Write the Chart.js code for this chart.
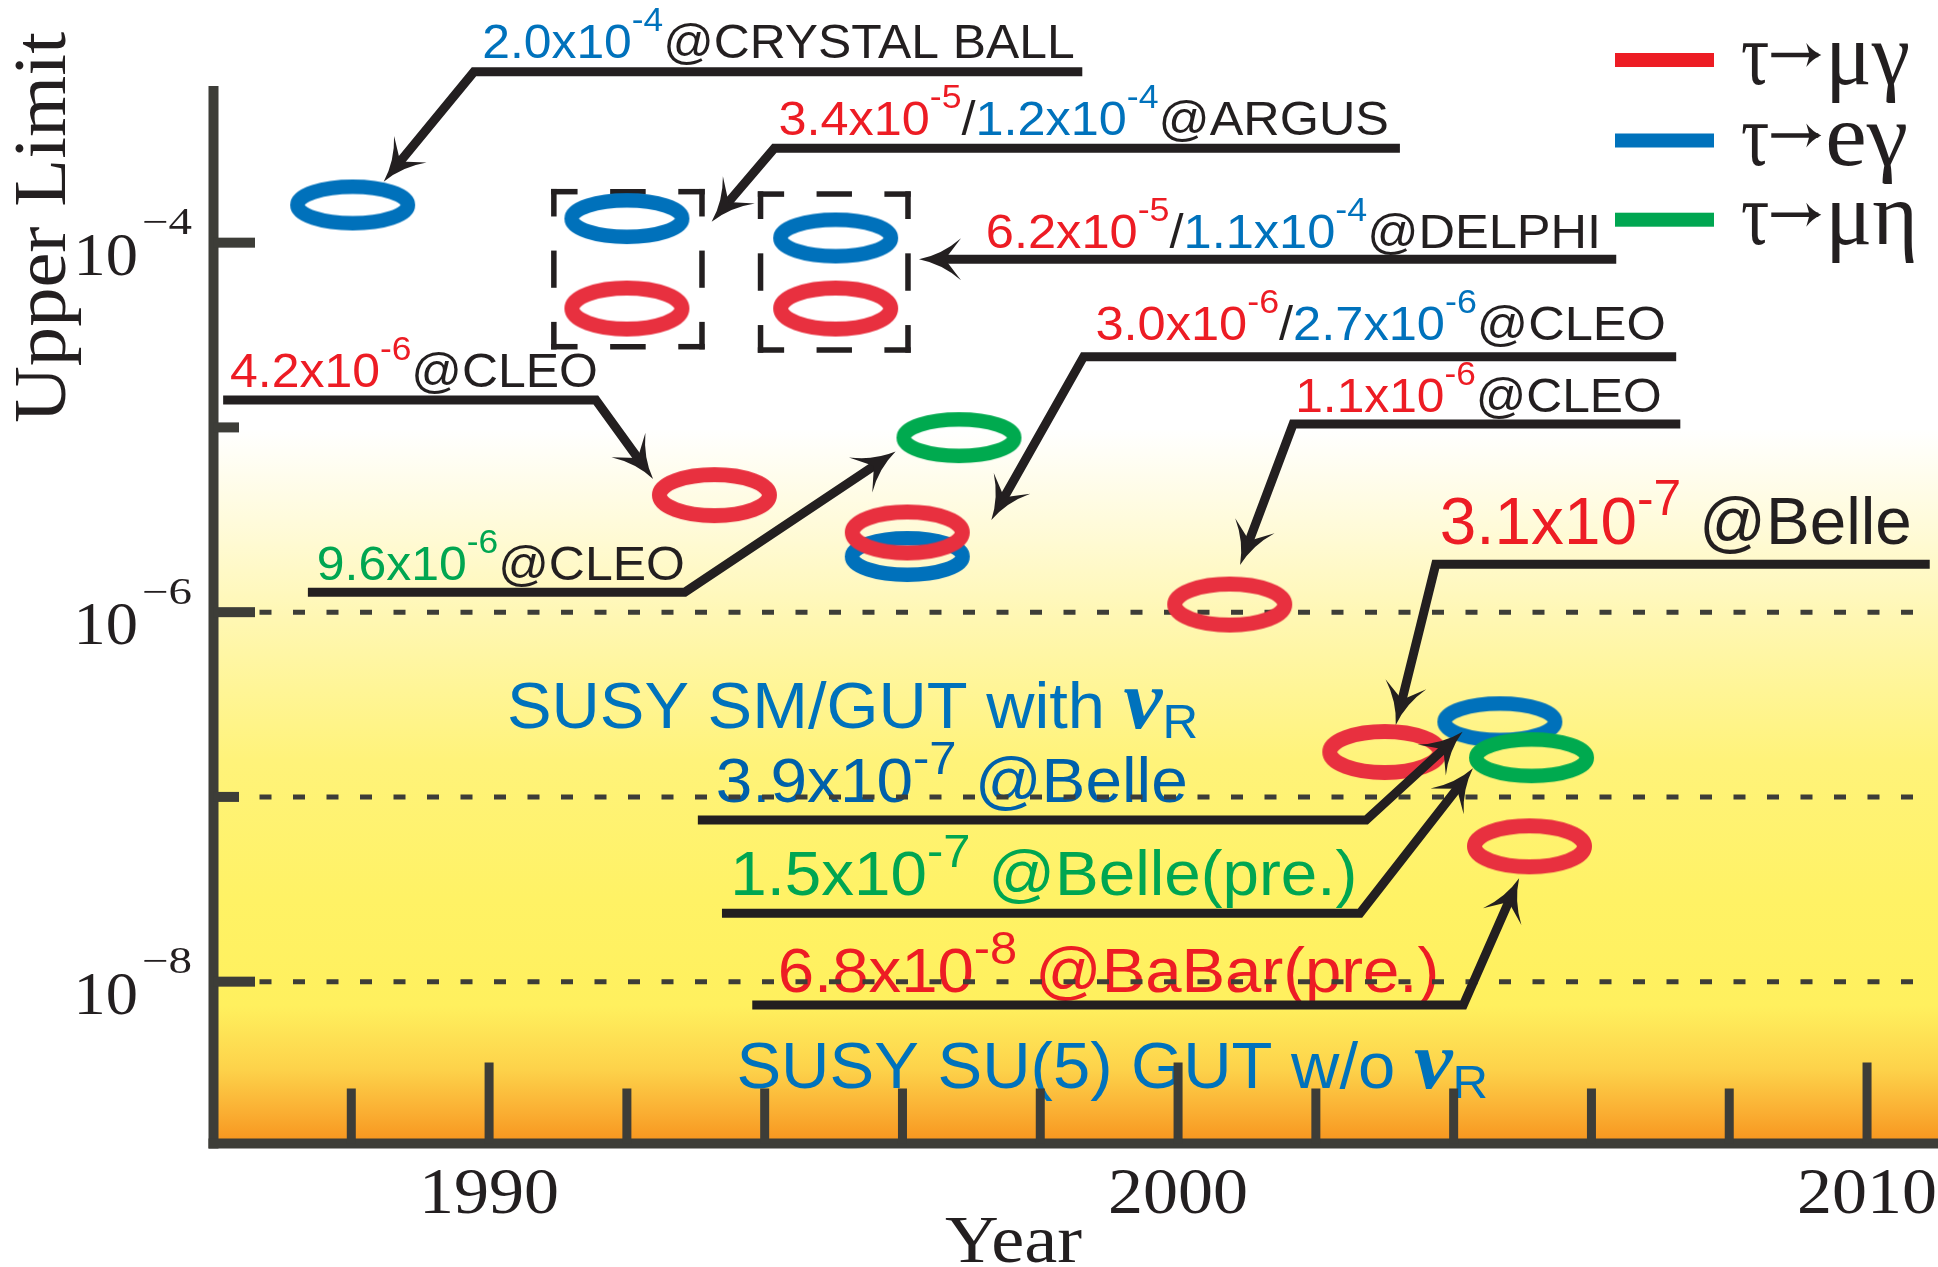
<!DOCTYPE html>
<html>
<head>
<meta charset="utf-8">
<title>Upper limits on tau LFV decays</title>
<script src="https://cdn.jsdelivr.net/npm/chart.js@4.4.1/dist/chart.umd.min.js"></script>
<style>
  html, body { margin: 0; padding: 0; background: #fff; }
  canvas { display: block; }
</style>
</head>
<body>
<canvas id="chart" width="1938" height="1267"></canvas>
<script>
(function () {
    'use strict';

    // ── Data ──────────────────────────────────────────────────────────────────
    const seriesNames  = ['τ→μγ', 'τ→eγ', 'τ→μη'];
    const legendColors = ['#ed1c24', '#0072bc', '#00a651'];
    const ringColors   = ['#e8303f', '#0071bb', '#00aa4f'];

    const muGammaYears  = [1992.0, 1993.27, 1995.03, 1996.07, 2000.75, 2003.0, 2005.1];
    const muGammaLimits = [4.4e-5, 4.3e-6, 4.4e-5, 2.7e-6, 1.1e-6, 1.75e-7, 5.4e-8];
    const eGammaYears   = [1988.02, 1992.0, 1995.03, 1996.07, 2004.67];
    const eGammaLimits  = [1.6e-4, 1.35e-4, 1.06e-4, 2.0e-6, 2.55e-7];
    const muEtaYears    = [1996.82, 2005.13];
    const muEtaLimits   = [8.8e-6, 1.63e-7];

    const yearTicks     = [1988, 1990, 1992, 1994, 1996, 1998, 2000, 2002, 2004, 2006, 2008, 2010];
    const yearLabels    = [1990, 2000, 2010];
    const decadeTicks   = [-4, -5, -6, -7, -8];
    const decadeLabels  = [-4, -6, -8];
    const dashedDecades = [-6, -7, -8];

    const xMin = 1986, xMax = 2011.03;
    const yMin = Math.pow(10, -8.876), yMax = Math.pow(10, -3.152);

    // colours used by the annotation text
    const R = '#ed1c24', B = '#0072bc', B2 = '#0060aa', G = '#00a651', K = '#231f20';
    const AXIS = '#3d3d38';

    // Annotation text, anchored in data units: [year, log10(limit)]
    const notes = [
        { segs: [['2.0x10', B], ['-4', B, 'sup'], ['@CRYSTAL BALL', K]], at: [1989.90, -3.002], to: 1998.50, size: 48 },
        { segs: [['3.4x10', R], ['-5', R, 'sup'], ['/', K], ['1.2x10', B], ['-4', B, 'sup'], ['@ARGUS', K]], at: [1994.20, -3.417], to: 2003.06, size: 48 },
        { segs: [['6.2x10', R], ['-5', R, 'sup'], ['/', K], ['1.1x10', B], ['-4', B, 'sup'], ['@DELPHI', K]], at: [1997.21, -4.030], to: 2006.14, size: 48 },
        { segs: [['3.0x10', R], ['-6', R, 'sup'], ['/', K], ['2.7x10', B], ['-6', B, 'sup'], ['@CLEO', K]], at: [1998.80, -4.527], to: 2007.08, size: 48 },
        { segs: [['1.1x10', R], ['-6', R, 'sup'], ['@CLEO', K]], at: [2001.70, -4.917], to: 2007.02, size: 48 },
        { segs: [['4.2x10', R], ['-6', R, 'sup'], ['@CLEO', K]], at: [1986.24, -4.780], to: 1991.58, size: 48 },
        { segs: [['9.6x10', G], ['-6', G, 'sup'], ['@CLEO', K]], at: [1987.50, -5.826], to: 1992.84, size: 48 },
        { segs: [['3.1x10', R], ['-7', R, 'sup'], [' @Belle', K]], at: [2003.80, -5.631], to: 2010.65, size: 66, big: true },
        { segs: [['3.9x10', B2], ['-7', B2, 'sup'], [' @Belle', B2]], at: [1993.29, -7.026], to: 2000.14, size: 63, big: true },
        { segs: [['1.5x10', G], ['-7', G, 'sup'], [' @Belle(pre.)', G]], at: [1993.50, -7.531], to: 2002.60, size: 63, big: true },
        { segs: [['6.8x10', R], ['-8', R, 'sup'], [' @BaBar(pre.)', R]], at: [1994.19, -8.054], to: 2003.79, size: 63, big: true },
        { segs: [['SUSY SM/GUT with ', B], ['ν', B, 'nu'], ['R', B, 'sub']], at: [1990.26, -6.629], to: 2000.29, size: 65 },
        { segs: [['SUSY SU(5) GUT w/o ', B], ['ν', B, 'nu'], ['R', B, 'sub']], at: [1993.59, -8.577], to: 2004.50, size: 64 },
    ];

    // Leader lines, last point is the arrow tip: [year, log10(limit)]
    const leaders = [
        [[1998.61, -3.075], [1989.78, -3.075], [1988.47, -3.670]],
        [[2003.22, -3.489], [1994.14, -3.489], [1993.23, -3.887]],
        [[2006.36, -4.090], [1996.24, -4.090]],
        [[2007.23, -4.617], [1998.63, -4.617], [1997.29, -5.501]],
        [[2007.29, -4.982], [2001.67, -4.982], [2000.90, -5.745]],
        [[1986.14, -4.852], [1991.55, -4.852], [1992.38, -5.279]],
        [[1987.37, -5.892], [1992.84, -5.892], [1995.90, -5.131]],
        [[2010.91, -5.741], [2003.74, -5.741], [2003.16, -6.611]],
        [[1993.03, -7.125], [2002.73, -7.125], [2004.13, -6.647]],
        [[1993.38, -7.630], [2002.64, -7.630], [2004.28, -6.845]],
        [[1993.82, -8.126], [2004.14, -8.126], [2004.95, -7.440]],
    ];

    // Dashed boxes around the ARGUS and DELPHI pairs
    const boxes = [
        [[1990.94, -3.724], [1993.09, -4.563]],
        [[1993.94, -3.737], [1996.08, -4.581]],
    ];

    const SANS  = '"Liberation Sans", Arial, sans-serif';
    const SERIF = '"Liberation Serif", "Times New Roman", serif';

    // ── Helpers ───────────────────────────────────────────────────────────────
    function toPoints(xs, ys) {
        return xs.map((x, i) => ({ x, y: ys[i] }));
    }

    // Elliptical ring used as point style
    function ringImage(color, w, h, t) {
        const c = document.createElement('canvas');
        c.width = w + 4;
        c.height = h + 4;
        const g = c.getContext('2d');
        g.strokeStyle = color;
        g.lineWidth = t;
        g.beginPath();
        g.ellipse(c.width / 2, c.height / 2, w / 2 - t / 2, h / 2 - t / 2, 0, 0, Math.PI * 2);
        g.stroke();
        return c;
    }

    function segFont(seg, size, big) {
        const kind = seg[2];
        if (kind === 'sup') return `${Math.round(size * (big ? 0.75 : 0.7))}px ${SANS}`;
        if (kind === 'sub') return `${Math.round(size * 0.74)}px ${SANS}`;
        if (kind === 'nu')  return `italic bold ${Math.round(size * 1.3)}px ${SERIF}`;
        return `${size}px ${SANS}`;
    }

    // Rich text squeezed to a target width
    function drawRich(ctx, note, x, y, targetW) {
        const { segs, size, big } = note;
        const widths = segs.map(s => {
            ctx.font = segFont(s, size, big);
            return ctx.measureText(s[0]).width;
        });
        const total = widths.reduce((a, b) => a + b, 0);
        ctx.save();
        ctx.translate(x, y);
        ctx.scale(targetW / total, 1);
        let cx = 0;
        segs.forEach((s, i) => {
            ctx.font = segFont(s, size, big);
            ctx.fillStyle = s[1];
            let dy = 0;
            if (s[2] === 'sup') dy = -size * (big ? 0.44 : 0.56);
            if (s[2] === 'sub') dy = size * 0.15;
            ctx.fillText(s[0], cx, dy);
            cx += widths[i];
        });
        ctx.restore();
    }

    function fitText(ctx, text, x, y, w, font, color, align) {
        ctx.save();
        ctx.font = font;
        ctx.fillStyle = color;
        const nat = ctx.measureText(text).width;
        const sx = w / nat;
        const left = align === 'center' ? x - w / 2 : x;
        ctx.translate(left, y);
        ctx.scale(sx, 1);
        ctx.fillText(text, 0, 0);
        ctx.restore();
    }

    // Legend label: tau, a drawn long arrow, then the final state
    function legendText(ctx, label, x, y, w) {
        const tau = label.slice(0, 1), rest = label.slice(2);
        const font = `88px ${SERIF}`;
        ctx.save();
        ctx.font = font;
        ctx.fillStyle = K;
        ctx.strokeStyle = K;
        const tw = ctx.measureText(tau).width * 0.8;
        fitText(ctx, tau, x, y, tw, font, K);
        // arrow glyph
        const ax0 = x + tw + 2, ax1 = ax0 + 50, ay = y - 29;
        ctx.lineWidth = 4.5;
        ctx.lineCap = 'butt';
        ctx.beginPath();
        ctx.moveTo(ax0, ay);
        ctx.lineTo(ax1 - 3, ay);
        ctx.stroke();
        ctx.beginPath();
        ctx.moveTo(ax1, ay);
        ctx.quadraticCurveTo(ax1 - 9, ay - 4, ax1 - 15, ay - 12);
        ctx.lineTo(ax1 - 12, ay - 1);
        ctx.lineTo(ax0 + 30, ay - 1);
        ctx.lineTo(ax0 + 30, ay + 1);
        ctx.lineTo(ax1 - 12, ay + 1);
        ctx.lineTo(ax1 - 15, ay + 12);
        ctx.quadraticCurveTo(ax1 - 9, ay + 4, ax1, ay);
        ctx.closePath();
        ctx.fill();
        const rx = ax1 + 4;
        fitText(ctx, rest, rx, y, x + w - rx, font, K);
        ctx.restore();
    }

    const ARROW_LEN = 42, ARROW_HALF = 21;

    function arrowHead(ctx, tip, ang) {
        ctx.save();
        ctx.translate(tip.x, tip.y);
        ctx.rotate(ang);
        ctx.beginPath();
        ctx.moveTo(0, 0);
        ctx.quadraticCurveTo(-ARROW_LEN * 0.55, -ARROW_HALF * 0.22, -ARROW_LEN, -ARROW_HALF);
        ctx.lineTo(-ARROW_LEN * 0.62, 0);
        ctx.lineTo(-ARROW_LEN, ARROW_HALF);
        ctx.quadraticCurveTo(-ARROW_LEN * 0.55, ARROW_HALF * 0.22, 0, 0);
        ctx.closePath();
        ctx.fill();
        ctx.restore();
    }

    function dashedSide(ctx, x0, y0, x1, y1) {
        const L = Math.hypot(x1 - x0, y1 - y0);
        const ux = (x1 - x0) / L, uy = (y1 - y0) / L;
        const ext = 2.75;
        const pieces = [[-ext, 0.16 * L], [0.38 * L, 0.62 * L], [0.84 * L, L + ext]];
        pieces.forEach(([a, b]) => {
            ctx.beginPath();
            ctx.moveTo(x0 + ux * a, y0 + uy * a);
            ctx.lineTo(x0 + ux * b, y0 + uy * b);
            ctx.stroke();
        });
    }

    // ── Decoration plugin: background, axes, text, arrows ─────────────────────
    const decor = {
        id: 'decor',
        beforeDraw(chart) {
            const { ctx, chartArea: a } = chart;
            ctx.save();
            ctx.fillStyle = '#ffffff';
            ctx.fillRect(0, 0, chart.width, chart.height);
            const g = ctx.createLinearGradient(0, a.top, 0, a.bottom);
            g.addColorStop(0.00, '#ffffff');
            g.addColorStop(0.325, '#ffffff');
            g.addColorStop(0.41, '#fffbdc');
            g.addColorStop(0.505, '#fff7b2');
            g.addColorStop(0.637, '#fff37a');
            g.addColorStop(0.77, '#fff265');
            g.addColorStop(0.87, '#fff05e');
            g.addColorStop(0.93, '#fdd24a');
            g.addColorStop(0.97, '#faaf33');
            g.addColorStop(1.00, '#f7941d');
            ctx.fillStyle = g;
            ctx.fillRect(a.left, a.top, a.right - a.left, a.bottom - a.top);
            ctx.restore();
        },

        beforeDatasetsDraw(chart) {
            const { ctx, chartArea: a } = chart;
            const xs = chart.scales.x, ys = chart.scales.y;
            const px = v => xs.getPixelForValue(v);
            const py = e => ys.getPixelForValue(Math.pow(10, e));

            ctx.save();
            ctx.textBaseline = 'alphabetic';
            ctx.textAlign = 'left';

            // annotation text
            notes.forEach(n => {
                const x = px(n.at[0]);
                drawRich(ctx, n, x, py(n.at[1]), px(n.to) - x);
            });

            // dashed boxes
            ctx.strokeStyle = K;
            ctx.lineWidth = 5.5;
            ctx.lineCap = 'butt';
            boxes.forEach(([p, q]) => {
                const l = px(p[0]), r = px(q[0]), t = py(p[1]), b = py(q[1]);
                dashedSide(ctx, l, t, r, t);
                dashedSide(ctx, r, t, r, b);
                dashedSide(ctx, r, b, l, b);
                dashedSide(ctx, l, b, l, t);
            });

            // dashed decade lines
            ctx.strokeStyle = AXIS;
            ctx.lineWidth = 5;
            ctx.setLineDash([12, 21.5]);
            dashedDecades.forEach(e => {
                const y = py(e);
                ctx.beginPath();
                ctx.moveTo(a.left + 46, y);
                ctx.lineTo(a.right - 12, y);
                ctx.stroke();
            });
            ctx.setLineDash([]);

            // axes
            ctx.fillStyle = AXIS;
            ctx.fillRect(a.left - 5, a.top, 10, a.bottom - a.top + 5);
            ctx.fillRect(a.left - 5, a.bottom - 5, a.right - a.left + 5, 10);

            // x ticks
            yearTicks.forEach(yr => {
                const x = px(yr);
                const len = yearLabels.includes(yr) ? 81 : 55;
                ctx.fillRect(x - 4.5, a.bottom - len, 9, len);
            });
            // y ticks
            decadeTicks.forEach(e => {
                const y = py(e);
                const len = decadeLabels.includes(e) ? 41.5 : 25.5;
                ctx.fillRect(a.left, y - 5, len, 10);
            });

            // tick labels
            yearLabels.forEach(yr => {
                fitText(ctx, String(yr), px(yr), a.bottom + 69, 140, `65px ${SERIF}`, K, 'center');
            });
            decadeLabels.forEach(e => {
                const y = py(e);
                fitText(ctx, '10', a.left - 140, y + 32, 64.5, `62px ${SERIF}`, K);
                fitText(ctx, '\u2212' + Math.abs(e), a.left - 71.5, y - 8.5, 50, `37px ${SERIF}`, K);
            });

            // axis titles
            fitText(ctx, 'Year', 1013.5, 1261.5, 137, `68px ${SERIF}`, K, 'center');
            ctx.save();
            ctx.translate(64.7, 423);
            ctx.rotate(-Math.PI / 2);
            fitText(ctx, 'Upper Limit', 0, 0, 391, `74px ${SERIF}`, K);
            ctx.restore();

            // legend
            const legendY = [60, 140.5, 219.7];
            const legendW = [169, 167, 177];
            chart.data.datasets.forEach((ds, i) => {
                ctx.fillStyle = legendColors[i];
                ctx.fillRect(1615, legendY[i] - 7, 99, 14);
                legendText(ctx, ds.label, 1741, legendY[i] + 24, legendW[i]);
            });

            ctx.restore();
        },

        afterDatasetsDraw(chart) {
            const { ctx } = chart;
            const xs = chart.scales.x, ys = chart.scales.y;
            ctx.save();
            ctx.strokeStyle = K;
            ctx.fillStyle = K;
            ctx.lineWidth = 9;
            ctx.lineJoin = 'miter';
            ctx.lineCap = 'butt';
            leaders.forEach(path => {
                const pts = path.map(([yr, e]) => ({
                    x: xs.getPixelForValue(yr),
                    y: ys.getPixelForValue(Math.pow(10, e)),
                }));
                const tip = pts[pts.length - 1], prev = pts[pts.length - 2];
                const ang = Math.atan2(tip.y - prev.y, tip.x - prev.x);
                const end = {
                    x: tip.x - Math.cos(ang) * ARROW_LEN * 0.6,
                    y: tip.y - Math.sin(ang) * ARROW_LEN * 0.6,
                };
                ctx.beginPath();
                ctx.moveTo(pts[0].x, pts[0].y);
                for (let i = 1; i < pts.length - 1; i++) ctx.lineTo(pts[i].x, pts[i].y);
                ctx.lineTo(end.x, end.y);
                ctx.stroke();
                arrowHead(ctx, tip, ang);
            });
            ctx.restore();
        },
    };

    // ── Chart ─────────────────────────────────────────────────────────────────
    const rings = [
        ringImage(ringColors[0], 125, 56, 15),
        ringImage(ringColors[1], 125, 51, 14.5),
        ringImage(ringColors[2], 125, 51, 14.5),
    ];

    new Chart(document.getElementById('chart'), {
        type: 'scatter',
        data: {
            datasets: [
                { label: seriesNames[0], data: toPoints(muGammaYears, muGammaLimits), pointStyle: rings[0], order: 0, clip: false },
                { label: seriesNames[1], data: toPoints(eGammaYears, eGammaLimits),   pointStyle: rings[1], order: 2, clip: false },
                { label: seriesNames[2], data: toPoints(muEtaYears, muEtaLimits),     pointStyle: rings[2], order: 1, clip: false },
            ],
        },
        options: {
            responsive: false,
            devicePixelRatio: 1,
            animation: false,
            events: [],
            layout: { autoPadding: false, padding: { left: 213.5, top: 86, right: 0, bottom: 123.5 } },
            elements: { point: { radius: 3, hoverRadius: 3 } },
            plugins: {
                legend : { display: false },
                tooltip: { enabled: false },
            },
            scales: {
                x: { type: 'linear', min: xMin, max: xMax, bounds: 'data', display: false },
                y: { type: 'logarithmic', min: yMin, max: yMax, bounds: 'data', display: false },
            },
        },
        plugins: [decor],
    });
})();
</script>
</body>
</html>
